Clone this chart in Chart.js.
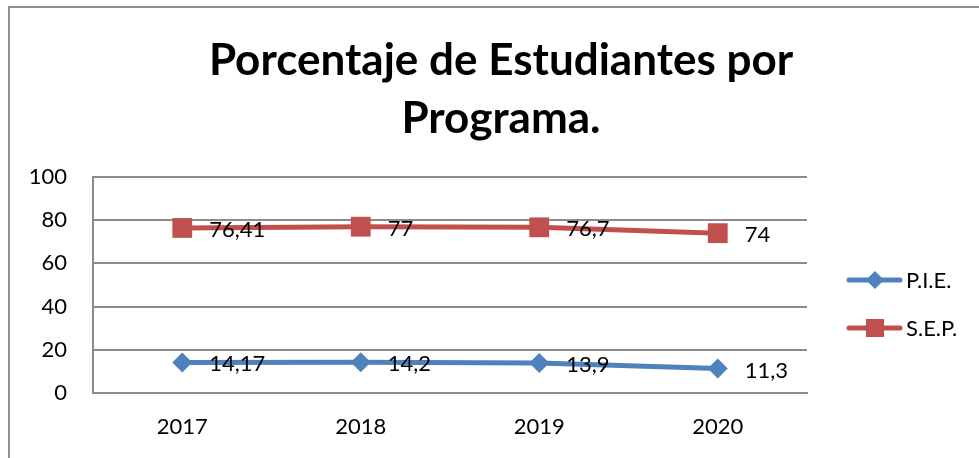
<!DOCTYPE html>
<html><head><meta charset="utf-8">
<script src="https://cdn.jsdelivr.net/npm/chart.js@4"></script>
<style>html,body{margin:0;padding:0;background:#fff}#wrap{width:979px;height:458px;position:relative}</style>
</head><body><div id="wrap"><canvas id="c"></canvas></div>
<script>
const categories = ["2017", "2018", "2019", "2020"];
const seriesNames = ["P.I.E.", "S.E.P."];
const pieValues = [14.17, 14.2, 13.9, 11.3];
const sepValues = [76.41, 77, 76.7, 74];
const pieLabels = ["14,17", "14,2", "13,9", "11,3"];
const sepLabels = ["76,41", "77", "76,7", "74"];
const yTicks = [0, 20, 40, 60, 80, 100];
const titleLines = ["Porcentaje de Estudiantes por", "Programa."];

const FONT = "Lato, 'Open Sans', sans-serif";
const BLUE = "#4F81BD", RED = "#C0504D", GRID = "#8C8C8C";

const frame = {
  id: 'frame',
  beforeDraw(chart) {
    const ctx = chart.ctx;
    ctx.save();
    ctx.strokeStyle = "#8E8E8E"; ctx.lineWidth = 2;
    ctx.beginPath(); ctx.moveTo(9, 458); ctx.lineTo(9, 7); ctx.lineTo(979, 7); ctx.stroke();
    ctx.restore();
  }
};
const titlePlugin = {
  id: 'ttl',
  afterDraw(chart) {
    const ctx = chart.ctx;
    ctx.save();
    ctx.fillStyle = "#000"; ctx.font = "bold 44px " + FONT;
    ctx.textAlign = "center"; ctx.textBaseline = "middle";
    ctx.fillText(titleLines[0], 501, 61);
    ctx.fillText(titleLines[1], 501, 119);
    ctx.restore();
  }
};
const labelsPlugin = {
  id: 'lbls',
  afterDatasetsDraw(chart) {
    const ctx = chart.ctx;
    ctx.save();
    ctx.fillStyle = "#000"; ctx.font = "22px " + FONT;
    ctx.textAlign = "left"; ctx.textBaseline = "middle";
    chart.data.datasets.forEach((ds, i) => {
      chart.getDatasetMeta(i).data.forEach((pt, j) => {
        ctx.fillText(ds.labelsText[j], pt.x + 27, pt.y + 2);
      });
    });
    ctx.restore();
  }
};
const legendPlugin = {
  id: 'lgd',
  afterDraw(chart) {
    const ctx = chart.ctx;
    ctx.save();
    const ys = [280, 328];
    chart.data.datasets.forEach((ds, i) => {
      const y = ys[i];
      ctx.strokeStyle = ds.borderColor; ctx.lineWidth = 5; ctx.lineCap = "round";
      ctx.beginPath(); ctx.moveTo(849, y); ctx.lineTo(900, y); ctx.stroke();
      ctx.fillStyle = ds.borderColor;
      ctx.beginPath();
      if (i === 0) { ctx.moveTo(866, y); ctx.lineTo(875, y - 9); ctx.lineTo(884, y); ctx.lineTo(875, y + 9); }
      else { ctx.rect(866, y - 9, 18, 18); }
      ctx.fill();
      ctx.fillStyle = "#000"; ctx.font = "22px " + FONT;
      ctx.textAlign = "left"; ctx.textBaseline = "middle";
      ctx.fillText(ds.label, 906, y + 1);
    });
    ctx.restore();
  }
};

new Chart(document.getElementById('c'), {
  type: 'line',
  data: {
    labels: categories,
    datasets: [
      {label: seriesNames[0], data: pieValues, labelsText: pieLabels, borderColor: BLUE, backgroundColor: BLUE,
       borderWidth: 5, pointStyle: 'rectRot', pointRadius: 10, pointBorderWidth: 0, pointBackgroundColor: BLUE, tension: 0},
      {label: seriesNames[1], data: sepValues, labelsText: sepLabels, borderColor: RED, backgroundColor: RED,
       borderWidth: 5, pointStyle: 'rect', pointRadius: 14, pointBorderWidth: 0, pointBackgroundColor: RED, tension: 0}
    ]
  },
  options: {
    responsive: true, maintainAspectRatio: false, animation: false,
    layout: {padding: {left: 0, right: 172, top: 177, bottom: 0}},
    plugins: {legend: {display: false}, title: {display: false}, tooltip: {enabled: false}},
    scales: {
      x: {
        offset: true,
        grid: {display: false, drawTicks: false},
        border: {display: true, color: GRID, width: 2},
        ticks: {color: "#000", font: {family: FONT, size: 22}, padding: 21},
        afterFit(s) { s.height = 65; }
      },
      y: {
        min: 0, max: 100,
        afterBuildTicks(s) { s.ticks = yTicks.map(v => ({value: v})); },
        grid: {color: GRID, lineWidth: 2, drawTicks: false},
        border: {display: true, color: GRID, width: 2},
        ticks: {color: "#000", font: {family: FONT, size: 22}, padding: 26},
        afterFit(s) { s.width = 93; }
      }
    }
  },
  plugins: [frame, titlePlugin, labelsPlugin, legendPlugin]
});
</script></body></html>
